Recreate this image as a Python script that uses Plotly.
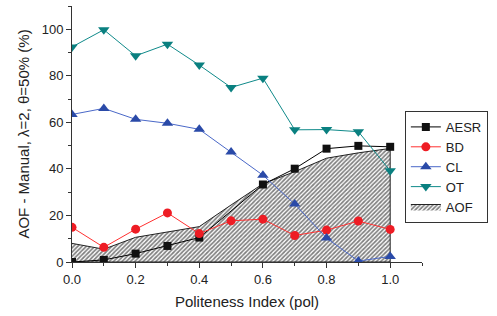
import plotly.graph_objects as go

pol = [0.0, 0.1, 0.2, 0.3, 0.4, 0.5, 0.6, 0.7, 0.8, 0.9, 1.0]
aesr_x = [0.0, 0.1, 0.2, 0.3, 0.4, 0.6, 0.7, 0.8, 0.9, 1.0]
aesr = [0.0, 0.9, 3.6, 6.9, 10.5, 33.3, 40.1, 48.7, 49.9, 49.5]
bd = [14.9, 6.3, 14.1, 21.1, 12.2, 17.7, 18.4, 11.4, 13.7, 17.6, 14.0]
cl = [63.4, 66.0, 61.3, 59.6, 57.0, 47.3, 37.3, 24.9, 10.3, 0.4, 2.4]
ot = [92.4, 99.8, 88.6, 93.6, 84.6, 75.0, 79.0, 56.8, 56.9, 56.0, 39.2]
aof = [8.0, 5.5, 10.6, 13.0, 15.2, 24.5, 33.6, 38.8, 44.6, 46.9, 48.8]

FONT = "Liberation Sans, Arial, sans-serif"

fig = go.Figure()

# hatched AOF area (closed polygon down to the x axis)
fig.add_trace(go.Scatter(
    x=pol + [pol[-1], pol[0]], y=aof + [0, 0],
    mode="lines", fill="toself", name="AOF", legendrank=5,
    line=dict(color="#222222", width=1),
    fillcolor="white",
    fillpattern=dict(shape="/", fgcolor="#000000", bgcolor="white",
                     size=3, solidity=0.55),
))
fig.add_trace(go.Scatter(
    x=aesr_x, y=aesr, mode="lines+markers", name="AESR", legendrank=1,
    line=dict(color="black", width=1),
    marker=dict(symbol="square", size=8, color="#111111"),
))
fig.add_trace(go.Scatter(
    x=pol, y=bd, mode="lines+markers", name="BD", legendrank=2,
    line=dict(color="#ff3030", width=1),
    marker=dict(symbol="circle", size=9, color="#ee1c24"),
))
fig.add_trace(go.Scatter(
    x=pol, y=cl, mode="lines+markers", name="CL", legendrank=3,
    line=dict(color="#4a68c8", width=1),
    marker=dict(symbol="triangle-up", size=10, color="#2a4aa8"),
))
fig.add_trace(go.Scatter(
    x=pol, y=ot, mode="lines+markers", name="OT", legendrank=4,
    line=dict(color="#0f8a8a", width=1),
    marker=dict(symbol="triangle-down", size=10, color="#0a8080"),
))

fig.update_layout(
    width=497, height=316,
    margin=dict(l=72, r=75, t=6, b=54, autoexpand=False),
    paper_bgcolor="white", plot_bgcolor="white",
    font=dict(family=FONT, size=13, color="#222222"),
    showlegend=True,
    legend=dict(
        x=0.951, y=0.59, xanchor="left", yanchor="top",
        bgcolor="white", bordercolor="#333333", borderwidth=1,
        font=dict(size=13, family=FONT, color="#222222"),
        tracegroupgap=0, itemwidth=30,
    ),
    xaxis=dict(
        range=[0, 1.1], dtick=0.2, tick0=0, tickformat=".1f",
        showgrid=False, zeroline=False, automargin=False,
        showline=True, linecolor="#333333", linewidth=1,
        ticks="outside", ticklen=5, tickcolor="#333333",
        minor=dict(dtick=0.1, ticks="outside", ticklen=3, tickcolor="#333333"),
        tickfont=dict(size=13),
        title=dict(text="Politeness Index (pol)", font=dict(size=15), standoff=10),
    ),
    yaxis=dict(
        range=[0, 110], dtick=20, tick0=0,
        showgrid=False, zeroline=False, automargin=False,
        showline=True, linecolor="#333333", linewidth=1,
        ticks="outside", ticklen=5, tickcolor="#333333",
        minor=dict(dtick=10, ticks="outside", ticklen=3, tickcolor="#333333"),
        tickfont=dict(size=13),
        title=dict(text="AOF - Manual, λ=2, θ=50% (%)", font=dict(size=15), standoff=8),
    ),
)

fig.write_html("out.html", config={"displayModeBar": False},
               post_script="document.body.style.margin='0';")
